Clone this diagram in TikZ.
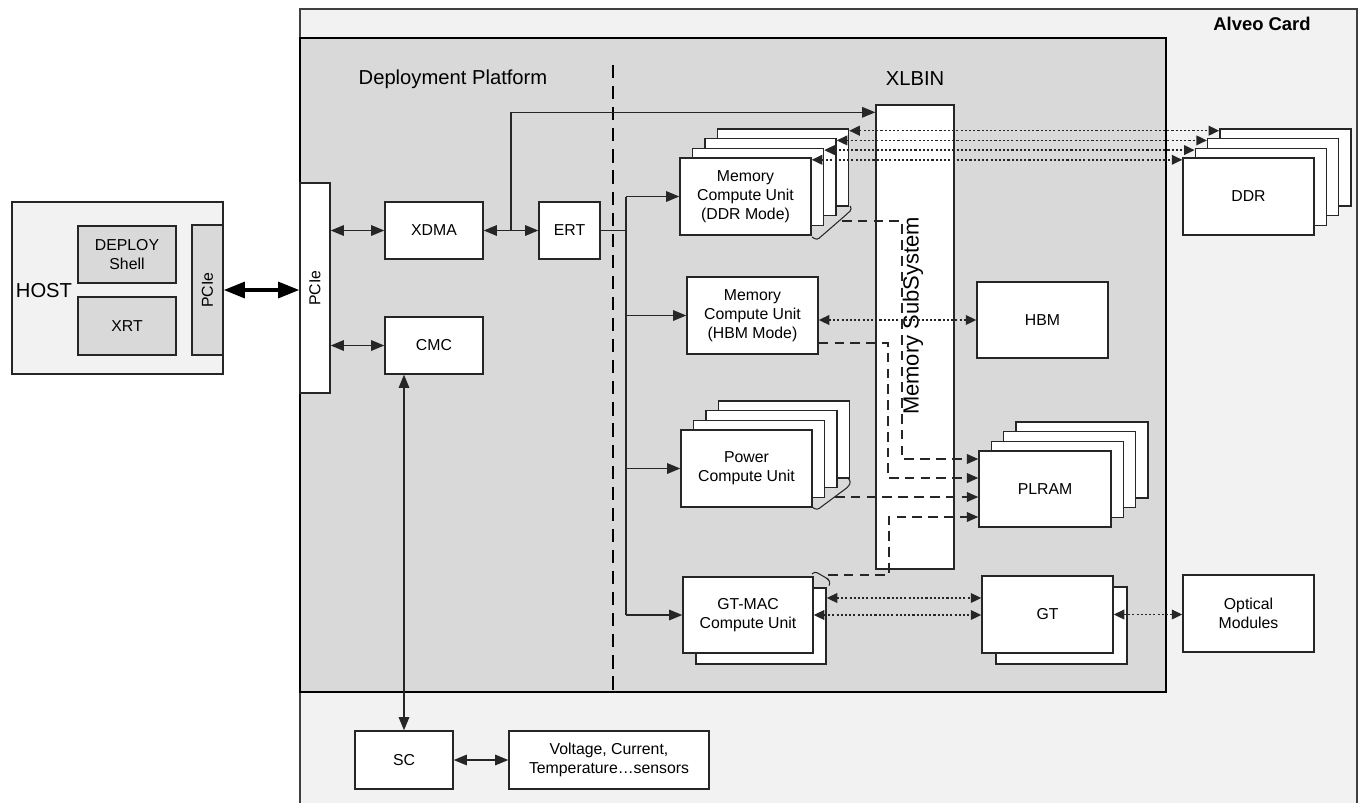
\documentclass[tikz,border=0pt]{standalone}
\usepackage{fontspec}
\setmainfont{Liberation Sans}
\usetikzlibrary{arrows.meta, positioning, calc}
\definecolor{cardgray}{HTML}{F2F2F2}
\definecolor{platgray}{HTML}{D9D9D9}
\definecolor{linegray}{HTML}{262626}

\begin{document}
\begin{tikzpicture}[
  x=0.02cm, y=-0.02cm,
  wh/.style 2 args={minimum width=#1*0.02cm, minimum height=#2*0.02cm},
  box/.style={draw=linegray, line width=0.8pt, fill=white, inner sep=0pt, align=center, font=\fontsize{9}{10.8}\selectfont},
  greybox/.style={box, fill=platgray},
  title/.style={font=\fontsize{11.5}{13}\selectfont},
  arr/.style={draw=linegray, line width=0.8pt, -{Triangle[length=7.5pt,width=6pt]}},
  dbl/.style={draw=linegray, line width=0.8pt, {Triangle[length=7.5pt,width=6pt]}-{Triangle[length=7.5pt,width=6pt]}},
  thickdbl/.style={draw=black, line width=2pt, {Triangle[length=12pt,width=9pt]}-{Triangle[length=12pt,width=9pt]}},
  dotdbl/.style={draw=linegray, line width=0.9pt, dash pattern=on 1.2pt off 1.2pt, {Triangle[length=6pt,width=5.5pt]}-{Triangle[length=6pt,width=5.5pt]}},
  dasharr/.style={draw=linegray, line width=0.9pt, dash pattern=on 5.5pt off 3.5pt, -{Triangle[length=6.5pt,width=5.5pt]}},
  divider/.style={draw=black, line width=1.1pt, dash pattern=on 7.5pt off 4.5pt},
  brace/.style={draw=linegray, line width=0.6pt, rounded corners=1.5pt},
]
  \useasboundingbox (0,0) rectangle (1362,802);
  \clip (0,0) rectangle (1362,802);

  % card and platform
  \node[draw=black!75, line width=0.6pt, fill=cardgray, wh={1057}{811}] (card) at (828.5,414.5) {};
  \node[font=\fontsize{10.5}{12}\selectfont\bfseries] (cardlbl) at (1262,24) {Alveo Card};
  \node[draw=black, line width=1.6pt, fill=platgray, wh={866}{654}] (platform) at (733,365) {};
  \node[title] (platlbl) at (453,79) {Deployment Platform};
  \node[title] (xlbinlbl) at (915,79) {XLBIN};
  \coordinate (divtop) at (613,65);
  \draw[divider] (divtop) -- (divtop |- platform.south);

  % host
  \node[box, fill=cardgray, wh={211}{172}] (host) at (117.5,288) {};
  \node[font=\fontsize{11.5}{13}\selectfont] (hostlbl) at (44,291) {HOST};
  \node[greybox, wh={98}{57}] (deploy) at (127,254.5) {DEPLOY\\Shell};
  \node[greybox, wh={98}{58}] (xrt) at (127,326) {XRT};
  \node[greybox, wh={31}{130}] (hpcie) at (207.5,290) {\rotatebox{90}{PCIe}};

  % platform side
  \node[box, wh={30}{210}] (cpcie) at (315,288) {\rotatebox{90}{PCIe}};
  \node[box, wh={98}{57}] (xdma) at (434,230.5) {XDMA};
  \node[box, wh={61}{57}] (ert) at (569.5,230.5) {ERT};
  \node[box, wh={98}{57}] (cmc) at (434,345.5) {CMC};
  \node[box, wh={98}{58}] (sc) at (404,760) {SC};
  \node[box, wh={200}{58}] (sensors) at (609,760) {Voltage, Current,\\Temperature…sensors};

  % memory subsystem
  \node[box, wh={78}{464}] (xlbin) at (915,337) {};
  \node[rotate=90, font=\fontsize{12.5}{14}\selectfont] (msslbl) at (913,316) {Memory SubSystem};

  % compute units and memories
  \foreach \i in {3,2,1} {
    \node[box, wh={131}{77}] (ddrcu\i) at (745.5+12.5*\i,196.5-9.7*\i) {};
    \node[box, wh={131}{77}] (ddr\i) at (1248.5+12.3*\i,196.5-9.7*\i) {};
    \node[box, wh={131}{77}] (pwrcu\i) at (746.5+12.5*\i,468.5-9.7*\i) {};
    \node[box, wh={132}{76}] (plram\i) at (1045+12.3*\i,489-9.7*\i) {};
  }
  \node[box, wh={131}{77}] (ddrcu0) at (745.5,196.5) {Memory\\Compute Unit\\(DDR Mode)};
  \node[box, wh={131}{77}] (ddr0) at (1248.5,196.5) {DDR};
  \node[box, wh={131}{77}] (pwrcu0) at (746.5,468.5) {Power\\Compute Unit};
  \node[box, wh={132}{76}] (plram0) at (1045,489) {PLRAM};
  \node[box, wh={131}{77}] (hbmcu) at (752.5,315.5) {Memory\\Compute Unit\\(HBM Mode)};
  \node[box, wh={131}{76}] (hbm) at (1042.5,320) {HBM};
  \node[box, wh={130}{76}] (gtmac1) at (761,626) {};
  \node[box, wh={130}{76}] (gtmac0) at (748,615) {GT-MAC\\Compute Unit};
  \node[box, wh={131}{77}] (gt1) at (1061.5,625.5) {};
  \node[box, wh={131}{77}] (gt0) at (1047.5,614.5) {GT};
  \node[box, wh={131}{77}] (optical) at (1248.5,613.5) {Optical\\Modules};

  % host link and control paths
  \draw[thickdbl] (hpcie.east) -- (hpcie.east -| cpcie.west);
  \draw[dbl] (xdma.west -| cpcie.east) -- (xdma.west);
  \draw[dbl] (cmc.west -| cpcie.east) -- (cmc.west);
  \draw[dbl] (xdma.east) -- (ert.west);
  \coordinate (jx) at ($(xdma.east)!0.5!(ert.west)$);
  \draw[arr] (jx) |- ($(xlbin.north west)+(0,8)$);
  \draw[dbl] (sc.north |- cmc.south) -- (sc.north);
  \draw[dbl] (sc.east) -- (sensors.west);

  % ERT bus
  \coordinate (bus) at (626,230.5);
  \draw[linegray, line width=0.8pt] (ert.east) -- (bus);
  \draw[linegray, line width=0.8pt] (bus |- ddrcu0.west) -- (bus |- gtmac0.west);
  \draw[arr] (bus |- ddrcu0.west) -- (ddrcu0.west);
  \draw[arr] (bus |- hbmcu.west) -- (hbmcu.west);
  \draw[arr] (bus |- pwrcu0.west) -- (pwrcu0.west);
  \draw[arr] (bus |- gtmac0.west) -- (gtmac0.west);

  % memory links
  \foreach \i in {0,...,3}
    \draw[dotdbl] ($(ddrcu\i.north east)+(0,2.5)$) -- ($(ddr\i.north west)+(0,2.5)$);
  \draw[dotdbl] (hbm.west -| hbmcu.east) -- (hbm.west);
  \coordinate (gtin) at ($(gt0.west)+(0,-16.5)$);
  \draw[dotdbl] (gtin -| gtmac1.east) -- (gtin);
  \draw[dotdbl] (gtmac0.east) -- (gtmac0.east -| gt0.west);
  \draw[dotdbl] (gt0.east) -- (gt0.east -| optical.west);

  % braces and PLRAM paths
  \draw[brace] (812,237) -- (817,240) -- (847,214) -- (852,209) -- (850,206);
  \draw[brace] (812,507) -- (817,510) -- (848,487) -- (851,482) -- (848,478);
  \draw[brace] (812,574) -- (815,571.5) -- (828,579) -- (830.5,583) -- (829,585.5);
  \coordinate (ddrbr) at (842,221);
  \coordinate (pwrbr) at (835,497);
  \coordinate (gtbr) at (828,575);
  \coordinate (pin1) at ($(plram0.west)+(0,-30)$);
  \coordinate (pin2) at ($(plram0.west)+(0,-11)$);
  \coordinate (pin3) at ($(plram0.west)+(0,8)$);
  \coordinate (pin4) at ($(plram0.west)+(0,28)$);
  \draw[dasharr] (ddrbr) -- ++(60,0) |- (pin1);
  \draw[dasharr] ($(hbmcu.south east)+(0,-12)$) -- ++(69,0) |- (pin2);
  \draw[dasharr] (pwrbr) -- (pin3);
  \draw[dasharr] (gtbr) -- ++(61,0) |- (pin4);
\end{tikzpicture}
\end{document}
